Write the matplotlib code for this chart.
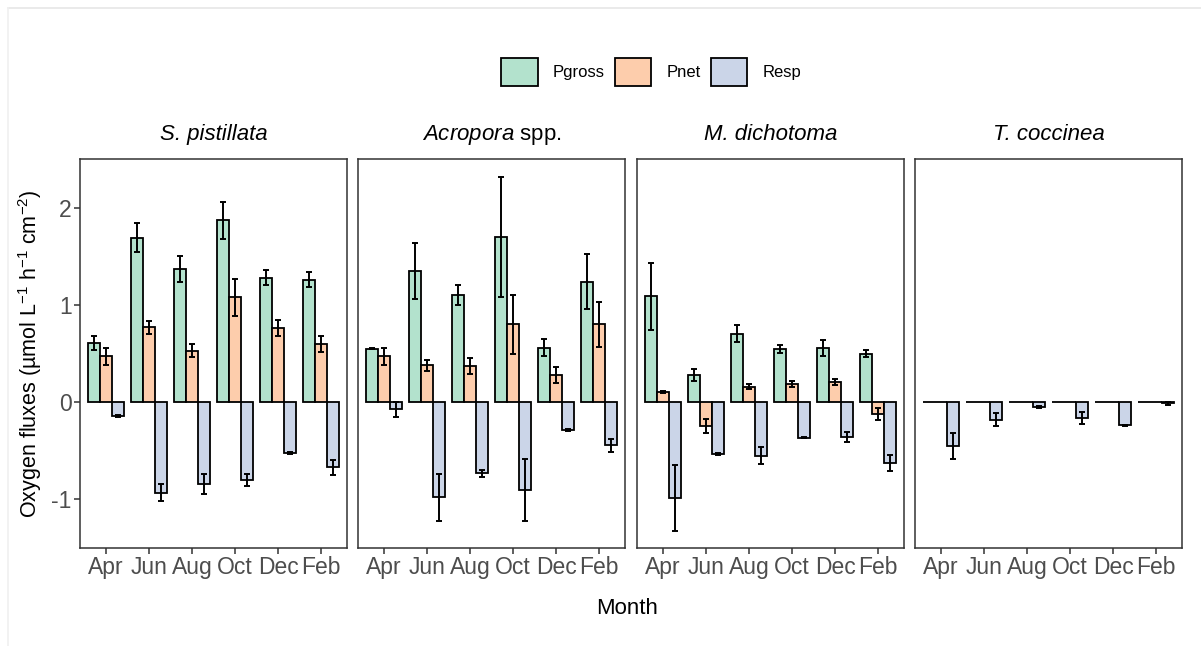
import numpy as np
import matplotlib
matplotlib.use("Agg")
import matplotlib.pyplot as plt
from matplotlib.patches import Patch
from matplotlib.lines import Line2D

plt.rcParams['font.family'] = ['Liberation Sans', 'DejaVu Sans']
plt.rcParams['mathtext.fontset'] = 'custom'
plt.rcParams['mathtext.rm'] = 'Liberation Sans'
plt.rcParams['mathtext.it'] = 'Liberation Sans:italic'

months = ['Apr', 'Jun', 'Aug', 'Oct', 'Dec', 'Feb']
series = ['Pgross', 'Pnet', 'Resp']
colors = ['#B3E2CD', '#FDCDAC', '#CBD5E8']
species = ['S. pistillata', r'$\it{Acropora}$ spp.', 'M. dichotoma', 'T. coccinea']
species_italic = [True, False, True, True]

# S. pistillata
spi_mean = [[0.61, 1.69, 1.37, 1.87, 1.28, 1.26],
            [0.47, 0.77, 0.53, 1.08, 0.76, 0.60],
            [-0.14, -0.93, -0.84, -0.80, -0.52, -0.67]]
spi_err = [[0.07, 0.15, 0.13, 0.19, 0.075, 0.075],
           [0.085, 0.065, 0.07, 0.19, 0.08, 0.08],
           [0.01, 0.085, 0.10, 0.065, 0.01, 0.075]]

# Acropora spp.
acr_mean = [[0.55, 1.35, 1.10, 1.70, 0.56, 1.24],
            [0.47, 0.38, 0.37, 0.80, 0.28, 0.80],
            [-0.075, -0.98, -0.73, -0.90, -0.285, -0.445]]
acr_err = [[0.005, 0.29, 0.10, 0.62, 0.087, 0.28],
           [0.085, 0.055, 0.085, 0.30, 0.08, 0.23],
           [0.075, 0.24, 0.035, 0.32, 0.01, 0.065]]

# M. dichotoma
mdi_mean = [[1.09, 0.28, 0.705, 0.55, 0.56, 0.50],
            [0.10, -0.245, 0.16, 0.19, 0.21, -0.12],
            [-0.985, -0.53, -0.55, -0.365, -0.355, -0.625]]
mdi_err = [[0.345, 0.058, 0.09, 0.04, 0.082, 0.033],
           [0.01, 0.07, 0.025, 0.03, 0.03, 0.06],
           [0.34, 0.01, 0.085, 0.008, 0.05, 0.08]]

# T. coccinea
tco_mean = [[0.0, 0.0, 0.0, 0.0, 0.0, 0.0],
            [0.0, 0.0, 0.0, 0.0, 0.0, 0.0],
            [-0.45, -0.18, -0.05, -0.165, -0.24, -0.01]]
tco_err = [[0, 0, 0, 0, 0, 0],
           [0, 0, 0, 0, 0, 0],
           [0.13, 0.07, 0.01, 0.06, 0.008, 0.015]]

means = [spi_mean, acr_mean, mdi_mean, tco_mean]
errs = [spi_err, acr_err, mdi_err, tco_err]

W, H = 1201, 646
fig = plt.figure(figsize=(W / 100, H / 100), dpi=100)

# faint screenshot frame
fig.add_artist(Line2D([8 / W, 1], [1 - 8 / H, 1 - 8 / H], color='#E6E6E6', lw=1.2))
fig.add_artist(Line2D([8 / W, 8 / W], [0, 1 - 8 / H], color='#F0F0F0', lw=1.2))

panel_x = [(80, 347), (358, 625), (637, 904), (915, 1182)]
top, bottom = 159, 548

x = np.arange(1, len(months) + 1)
bw = 0.28
gray = '#4D4D4D'

for p, (x0, x1) in enumerate(panel_x):
    ax = fig.add_axes([x0 / W, 1 - bottom / H, (x1 - x0) / W, (bottom - top) / H])
    for i in range(3):
        ax.bar(x + (i - 1) * bw, means[p][i], bw, color=colors[i],
               edgecolor='black', linewidth=1.3, zorder=2)
        e = np.array(errs[p][i])
        show = e > 0
        ax.errorbar((x + (i - 1) * bw)[show], np.array(means[p][i])[show], yerr=e[show],
                    fmt='none', ecolor='black', elinewidth=1.4, capsize=2.2,
                    capthick=1.4, zorder=3)
    ax.set_xlim(0.4, 6.6)
    ax.set_ylim(-1.5, 2.5)
    ax.set_xticks(x)
    ax.set_xticklabels(months, fontsize=16.5, color=gray)
    ax.set_yticks([-1, 0, 1, 2])
    if p == 0:
        ax.set_yticklabels(['-1', '0', '1', '2'], fontsize=16.5, color=gray)
        ax.set_ylabel(r'Oxygen fluxes (µmol L$^{-1}$ h$^{-1}$ cm$^{-2}$)', fontsize=15.5,
                      labelpad=5)
    else:
        ax.tick_params(axis='y', left=False, labelleft=False)
    ax.tick_params(axis='both', direction='out', length=4, width=1.1, color='#333333', pad=2)
    for s in ax.spines.values():
        s.set_color('#333333')
        s.set_linewidth(1.1)
    ax.set_title(species[p], fontsize=16, pad=14,
                 fontstyle='italic' if species_italic[p] else 'normal')

fig.text(627 / W, 1 - 608 / H, 'Month', ha='center', va='center', fontsize=16)

handles = [Patch(facecolor=c, edgecolor='black', linewidth=1.3) for c in colors]
fig.legend(handles, series, loc='center', bbox_to_anchor=(651 / W, 1 - 72 / H), ncol=3,
           frameon=False, fontsize=12, handlelength=2.2, handleheight=2.2,
           columnspacing=0.6, handletextpad=0.9)

fig.savefig('out.png', dpi=100)
